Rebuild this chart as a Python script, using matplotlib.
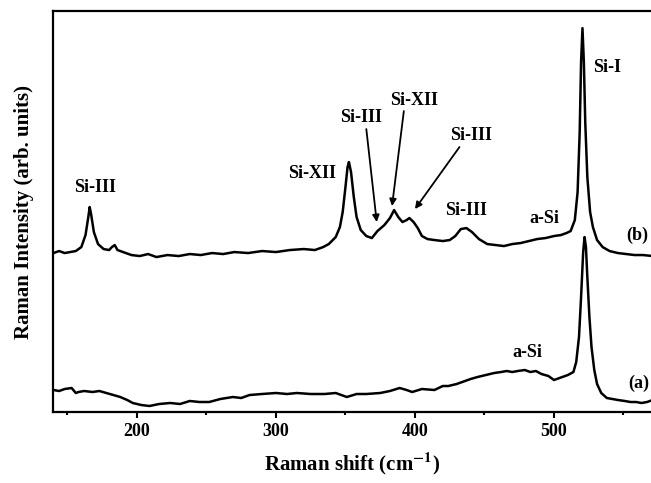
import matplotlib
matplotlib.use("Agg")
import matplotlib.pyplot as plt
from matplotlib.ticker import MultipleLocator

plt.rcParams["font.family"] = ["Liberation Serif", "DejaVu Serif"]
plt.rcParams["font.weight"] = "bold"
plt.rcParams["mathtext.fontset"] = "stix"

# Spectrum (b) - Raman shift (cm-1) and intensity (arb. units)
shift_b = [140, 144, 148, 152, 156, 160, 163, 165, 166, 167, 169, 172, 176, 180,
           182, 184, 186, 190, 196, 202, 208, 214, 222, 230, 238, 246, 254, 262,
           270, 280, 290, 300, 310, 320, 328, 334, 338, 343, 346, 348, 350, 351.5,
           352.5, 354, 356, 358, 361, 365, 369, 373, 378, 382, 385, 388, 391, 394,
           396, 399, 402, 405, 409, 414, 420, 425, 429, 433, 437, 441, 446, 452,
           458, 464, 470, 476, 482, 488, 494, 500, 505, 509, 512, 515, 517, 518.5,
           519.5, 520.5, 521.5, 522.5, 524, 526, 528, 531, 535, 540, 546, 552,
           558, 564, 571]
intensity_b = [159, 161, 159, 160, 161, 165, 177, 195, 205, 198, 180, 168, 163,
               162, 165, 167, 162, 160, 157, 156, 158, 155, 157, 156, 158, 157,
               159, 158, 160, 159, 161, 160, 162, 163, 162, 165, 168, 175, 185,
               200, 225, 245, 250, 240, 215, 195, 182, 176, 174, 181, 187, 194,
               202, 195, 190, 192, 194, 190, 184, 176, 173, 172, 171, 172, 176,
               183, 184, 180, 173, 168, 167, 166, 168, 169, 171, 173, 174, 176,
               177, 179, 181, 192, 220, 280, 350, 384, 350, 290, 235, 200, 185,
               172, 165, 161, 159, 158, 157, 157, 156]

# Spectrum (a)
shift_a = [140, 144, 148, 153, 156, 158, 162, 168, 173, 178, 183, 188, 193, 197,
           203, 209, 216, 224, 231, 238, 245, 252, 260, 269, 275, 281, 290, 300,
           308, 315, 325, 335, 343, 351, 358, 365, 375, 382, 389, 394, 398, 405,
           414, 420, 424, 430, 434, 440, 445, 451, 457, 462, 466, 470, 474, 479,
           483, 487, 491, 496, 500, 506, 510, 514, 516, 518, 519.5, 521, 522, 523,
           524, 525.5, 527, 529, 531, 534, 538, 542, 546, 551, 555, 559, 563, 567,
           571]
intensity_a = [22, 21, 23, 24, 19, 20, 21, 20, 21, 19, 17, 15, 12, 9, 7, 6, 8,
               9, 8, 11, 10, 10, 13, 15, 14, 17, 18, 19, 18, 19, 18, 18, 19, 15,
               18, 18, 19, 21, 24, 22, 20, 23, 22, 26, 26, 28, 30, 33, 35, 37,
               39, 40, 41, 40, 41, 42, 40, 41, 38, 36, 32, 35, 37, 40, 50, 75, 115,
               160, 175, 165, 135, 95, 65, 42, 28, 19, 14, 13, 12, 11, 10, 10, 9,
               10, 12]

# peak labels: (text, x, y)
labels = [("Si-III", 170, 225), ("Si-XII", 326, 239), ("Si-III", 437, 202),
          ("a-Si", 493, 194), ("Si-I", 538, 345), ("(b)", 560, 177),
          ("a-Si", 481, 60), ("(a)", 561, 29)]
# arrow labels: (text, text x, text y, arrow start x, y, arrow end x, y)
arrows = [("Si-III", 361, 295, 365, 283, 372.5, 190),
          ("Si-XII", 399, 312, 392, 301, 383.5, 206),
          ("Si-III", 440, 277, 432, 265, 400, 203)]

fig = plt.figure(figsize=(6.51, 4.83), dpi=100)
ax = fig.add_axes([0.0814, 0.147, 0.9186, 0.830])

ax.plot(shift_b, intensity_b, color="black", lw=1.8)
ax.plot(shift_a, intensity_a, color="black", lw=1.8)

for txt, x, y in labels:
    ax.text(x, y, txt, ha="center", va="center", fontsize=13, fontweight="bold")

for txt, tx, ty, sx, sy, ex, ey in arrows:
    ax.text(tx, ty, txt, ha="center", va="center", fontsize=13, fontweight="bold")
    ax.annotate("", xy=(ex, ey), xytext=(sx, sy),
                arrowprops=dict(arrowstyle="-|>", color="black", lw=1.3,
                                mutation_scale=10, shrinkA=0, shrinkB=0))

ax.set_xlim(139.6, 569.8)
ax.set_ylim(0, 401)
ax.xaxis.set_major_locator(MultipleLocator(100))
ax.xaxis.set_minor_locator(MultipleLocator(50))
ax.set_yticks([])
ax.tick_params(axis="x", which="major", direction="out", length=4.5, width=1.5,
               pad=3.5, labelsize=13)
ax.tick_params(axis="x", which="minor", direction="out", length=2.5, width=1.5)
for lab in ax.get_xticklabels():
    lab.set_fontweight("bold")

for side in ["left", "bottom", "top"]:
    ax.spines[side].set_linewidth(1.6)
ax.spines["right"].set_visible(False)

ax.set_xlabel("Raman shift (cm$^{\\mathbf{-1}}$)", fontsize=15, fontweight="bold",
              labelpad=8)
ax.set_ylabel("Raman Intensity (arb. units)", fontsize=15, fontweight="bold",
              labelpad=14)

fig.savefig("out.png", dpi=100)
